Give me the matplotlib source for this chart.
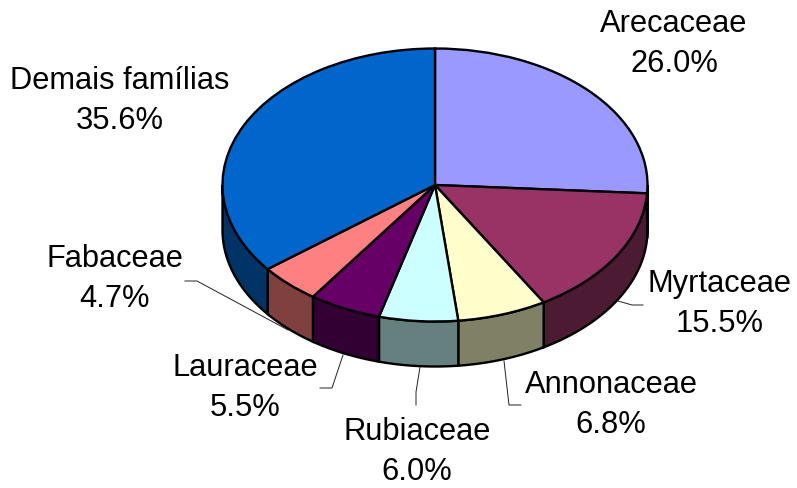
import numpy as np
import matplotlib
matplotlib.use("Agg")
import matplotlib.pyplot as plt
from matplotlib.lines import Line2D

familias = ["Arecaceae", "Myrtaceae", "Annonaceae", "Rubiaceae", "Lauraceae", "Fabaceae", "Demais famílias"]
valores = [26.0, 15.5, 6.8, 6.0, 5.5, 4.7, 35.6]
cores = ["#9999FF", "#993366", "#FFFFCC", "#CCFFFF", "#660066", "#FF8080", "#0066CC"]
cores_lado = ["#666699", "#4D1A33", "#808066", "#668080", "#330033", "#804040", "#003366"]

W, H = 797, 488
CX, CY, RX, RY, PROF = 435, 185, 212.5, 136.5, 45

# posicao dos rotulos em pixels (centro do texto)
pos_rotulos = [(674, 44), (120, 101), (720, 304), (611, 405), (417, 452), (245, 388), (115, 279)]
pos_rotulos = dict(zip(["Arecaceae", "Demais famílias", "Myrtaceae", "Annonaceae", "Rubiaceae", "Lauraceae", "Fabaceae"], pos_rotulos))

# linhas de chamada em pixels
chamadas = [
    [(185, 281), (197, 281), (288, 330)],
    [(320, 388), (332, 388), (343, 355)],
    [(416, 405), (416, 392), (420, 367)],
    [(521, 405), (509, 405), (504, 361)],
    [(643, 305), (632, 305), (618, 301)],
]

fig = plt.figure(figsize=(W / 100, H / 100), dpi=100)
ax = fig.add_axes([0, 0, 1, 1])

fatias, _ = ax.pie(valores, colors=cores, startangle=90, counterclock=False, radius=1,
                   wedgeprops={"edgecolor": "black", "linewidth": 1.7, "zorder": 3})
ax.set_aspect("auto")
ax.set_xlim(-CX / RX, (W - CX) / RX)
ax.set_ylim(-(H - CY) / RY, CY / RY)
ax.axis("off")

# lateral do disco: so a parte de baixo da elipse aparece
d = PROF / RY
for f, cor in zip(fatias, cores_lado):
    t1, t2 = f.theta1 % 360, f.theta2 % 360
    if t2 <= t1:
        t2 += 360
    for ini, fim in [(180, 360), (540, 720)]:
        a, b = max(t1, ini), min(t2, fim)
        if b <= a:
            continue
        t = np.radians(np.linspace(a, b, 80))
        xs = np.r_[np.cos(t), np.cos(t[::-1])]
        ys = np.r_[np.sin(t), np.sin(t[::-1]) - d]
        ax.fill(xs, ys, facecolor=cor, edgecolor="black", linewidth=1.7, zorder=2, joinstyle="miter")

for pts in chamadas:
    xs = [p[0] / W for p in pts]
    ys = [1 - p[1] / H for p in pts]
    fig.add_artist(Line2D(xs, ys, color="#222222", linewidth=0.7))

for nome, v in zip(familias, valores):
    px, py = pos_rotulos[nome]
    fig.text(px / W, 1 - py / H, f"{nome}\n{v:.1f}%", ha="center", va="center", ma="center",
             fontsize=22.2, family="Liberation Sans", color="black", linespacing=1.42)

fig.savefig("out.png", dpi=100, facecolor="white")
